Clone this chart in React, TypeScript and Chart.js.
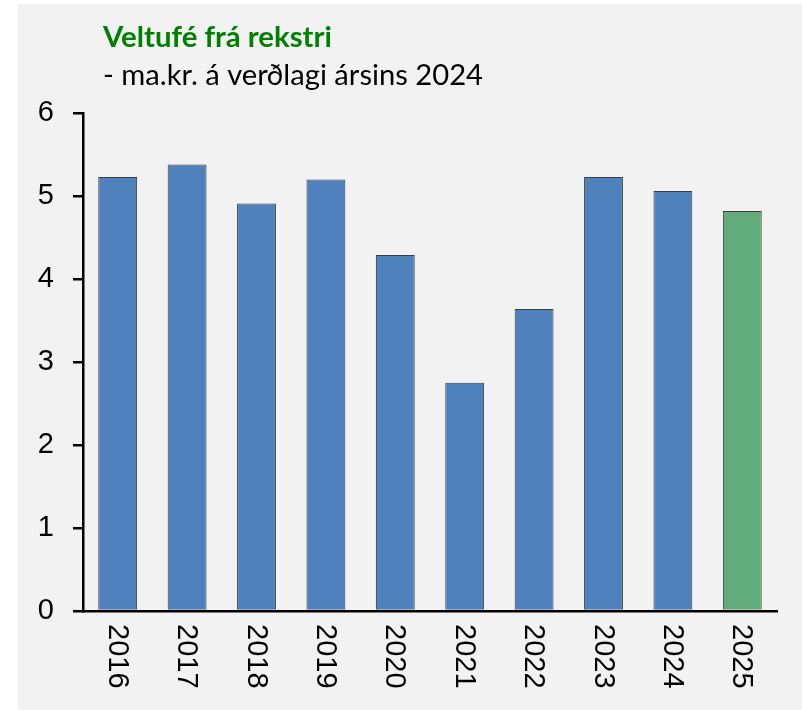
import React, { useEffect, useRef } from "react";
import { Chart, registerables } from "chart.js";

Chart.register(...registerables);

const years = ["2016", "2017", "2018", "2019", "2020", "2021", "2022", "2023", "2024", "2025"];
const values = [5.23, 5.38, 4.91, 5.2, 4.29, 2.75, 3.64, 5.23, 5.06, 4.82];
const barColors = [
  "#4f81bd", "#4f81bd", "#4f81bd", "#4f81bd", "#4f81bd",
  "#4f81bd", "#4f81bd", "#4f81bd", "#4f81bd", "#62ab7b",
];
const yMin = 0;
const yMax = 6;
const yStep = 1;
const titleText = "Veltufé frá rekstri";
const subtitleText = "- ma.kr. á verðlagi ársins 2024";

const fitFont = (ctx: CanvasRenderingContext2D, text: string, weight: string, family: string, target: number) => {
  ctx.font = `${weight} 24px ${family}`;
  const w = ctx.measureText(text).width;
  const size = (24 * target) / w;
  return `${weight} ${size.toFixed(2)}px ${family}`;
};

const decorPlugin = {
  id: "decor",
  beforeDraw(chart: any) {
    const ctx = chart.ctx;
    ctx.save();
    ctx.fillStyle = "#f2f2f2";
    ctx.fillRect(0, 0, chart.width, chart.height);
    ctx.restore();
  },
  afterDraw(chart: any) {
    const ctx = chart.ctx;
    ctx.save();
    ctx.textAlign = "left";
    ctx.textBaseline = "alphabetic";
    ctx.font = fitFont(ctx, titleText, "bold", "Lato", 229);
    ctx.fillStyle = "#008000";
    ctx.fillText(titleText, 85, 43.3);
    ctx.font = fitFont(ctx, subtitleText, "normal", "Lato", 380);
    ctx.fillStyle = "#000000";
    ctx.fillText(subtitleText, 85, 81);

    const xs = chart.scales.x;
    const baseY = chart.chartArea.bottom;
    ctx.font = "29px 'Liberation Sans', Arial, sans-serif";
    ctx.fillStyle = "#000000";
    ctx.textBaseline = "middle";
    years.forEach((lab, i) => {
      const x = xs.getPixelForValue(i);
      ctx.save();
      ctx.translate(x, baseY + 13);
      ctx.rotate(Math.PI / 2);
      ctx.fillText(lab, 0, 1);
      ctx.restore();
    });
    ctx.restore();
  },
};

export default function App() {
  const ref = useRef<HTMLCanvasElement | null>(null);
  useEffect(() => {
    if (!ref.current) return;
    const chart = new Chart(ref.current, {
      type: "bar",
      data: {
        labels: years,
        datasets: [
          {
            data: values,
            backgroundColor: barColors,
            borderColor: "rgba(40,40,40,0.9)",
            borderWidth: 1,
            barPercentage: 0.56,
            categoryPercentage: 1,
          },
        ],
      },
      options: {
        animation: false,
        responsive: false,
        maintainAspectRatio: false,
        layout: { padding: { top: 109, right: 25, left: 0, bottom: 0 } },
        plugins: { legend: { display: false }, tooltip: { enabled: false }, title: { display: false } },
        scales: {
          x: {
            type: "category",
            ticks: { display: false },
            grid: { display: false, drawTicks: false },
            border: { display: true, color: "#000", width: 2.5 },
            afterFit: (s: any) => {
              s.height = 99;
            },
          },
          y: {
            min: yMin,
            max: yMax,
            ticks: {
              stepSize: yStep,
              color: "#000",
              padding: 19,
              font: { family: "'Liberation Sans', Arial, sans-serif", size: 29 },
            },
            grid: { drawOnChartArea: false, drawTicks: true, tickLength: 10, color: "#000", lineWidth: 2.5 },
            border: { display: true, color: "#000", width: 2.5 },
            afterFit: (s: any) => {
              s.width = 65;
            },
          },
        },
      },
      plugins: [decorPlugin],
    });
    return () => chart.destroy();
  }, []);
  return (
    <div style={{ position: "fixed", left: 0, top: 0, width: 802, height: 710, background: "#ffffff" }}>
      <canvas
        ref={ref}
        width={784}
        height={706}
        style={{ position: "absolute", left: 18, top: 4, width: 784, height: 706, display: "block" }}
      />
    </div>
  );
}
